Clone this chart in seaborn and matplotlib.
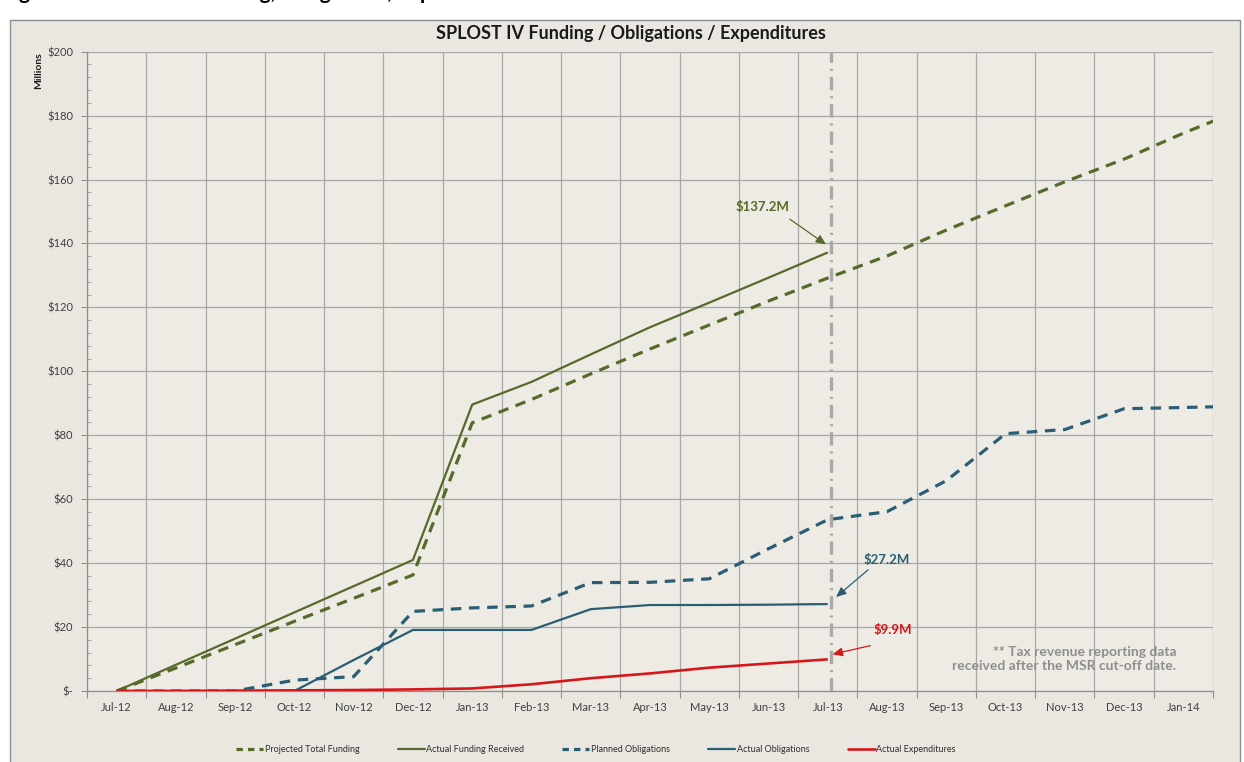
import numpy as np
import pandas as pd
import matplotlib
matplotlib.use("Agg")
import matplotlib.pyplot as plt
import seaborn as sns
from matplotlib.patches import FancyBboxPatch
from matplotlib.lines import Line2D
from matplotlib.ticker import MultipleLocator, FixedLocator, FuncFormatter

# ---------------- data ----------------
months = ["Jul-12", "Aug-12", "Sep-12", "Oct-12", "Nov-12", "Dec-12", "Jan-13",
          "Feb-13", "Mar-13", "Apr-13", "May-13", "Jun-13", "Jul-13", "Aug-13",
          "Sep-13", "Oct-13", "Nov-13", "Dec-13", "Jan-14"]
# series in $ millions; projected series carry one extra (Feb-14) value that runs off the right edge
projected_funding = [0, 7.2, 14.5, 21.8, 29.0, 36.3, 83.9, 91.2, 99.2, 107.0, 114.5,
                     122.0, 129.2, 136.1, 144.2, 151.8, 159.3, 166.4, 174.5, 182.0]
actual_funding = [0, 8.2, 16.4, 24.6, 32.8, 41.0, 89.6, 96.7, 105.3, 113.8, 121.5,
                  129.3, 137.2]
planned_obligations = [0, 0, 0, 3.4, 4.5, 24.9, 26.0, 26.6, 33.9, 34.0, 35.1, 44.5,
                       53.6, 56.1, 65.8, 80.5, 81.8, 88.3, 88.7, 89.1]
actual_obligations = [0, 0, 0, 0, 9.7, 19.1, 19.1, 19.1, 25.6, 26.9, 26.9, 27.0, 27.2]
actual_expenditures = [0, 0, 0.1, 0.2, 0.3, 0.5, 0.8, 2.1, 4.0, 5.5, 7.3, 8.6, 9.9]

series_names = ["Projected Total Funding", "Actual Funding Received",
                "Planned Obligations", "Actual Obligations", "Actual Expenditures"]
series_values = [projected_funding, actual_funding, planned_obligations,
                 actual_obligations, actual_expenditures]
cutoff_month = 12.05
ann_labels = ["$137.2M", "$27.2M", "$9.9M"]
note_text = "** Tax revenue reporting data\nreceived after the MSR cut-off date."

# ---------------- style ----------------
OLIVE = "#566A2B"
TEAL = "#2A5E73"
RED = "#D7161C"
colors = [OLIVE, OLIVE, TEAL, TEAL, RED]
dashed = [True, False, True, False, False]
widths = [2.3, 1.6, 2.3, 1.6, 1.9]

sns.set_theme(style="white")
plt.rcParams["font.family"] = ["Lato", "DejaVu Sans"]

W, H = 1244, 762
fig = plt.figure(figsize=(W / 100, H / 100), dpi=100)
fig.patch.set_facecolor("white")

# chart frame
frame = FancyBboxPatch((10 / W, -0.02), 1230 / W, 1 - 20 / H + 0.02,
                       boxstyle="square,pad=0", transform=fig.transFigure,
                       facecolor="#E9E7E0", edgecolor="#8E8E8E", linewidth=1.0,
                       zorder=-10)
fig.patches.append(frame)

ax = fig.add_axes([87 / W, 1 - 691 / H, (1213 - 87) / W, (691 - 51.7) / H])
ax.set_zorder(2)
ax.set_facecolor("#EDEBE4")

rows = []
for name, vals in zip(series_names, series_values):
    for i, v in enumerate(vals):
        rows.append({"series": name, "month": i, "value": v})
df = pd.DataFrame(rows)

for name, c, d, lw in zip(series_names, colors, dashed, widths):
    sub = df[df["series"] == name]
    ls = (0, (3.3, 2.4)) if d else "-"
    sns.lineplot(data=sub, x="month", y="value", ax=ax, color=c, linewidth=lw,
                 linestyle=ls, legend=False, zorder=3, solid_capstyle="butt",
                 dash_capstyle="butt")

# cutoff line
ax.axvline(cutoff_month, color="#A9A9A9", linewidth=2.4,
           linestyle=(0, (4.0, 1.8, 0.6, 1.8)), zorder=4)

ax.set_xlim(-0.5, 18.5)
ax.set_ylim(0, 200)

# axes / grid
ax.xaxis.set_major_locator(FixedLocator(np.arange(-0.5, 19, 1)))
ax.xaxis.set_minor_locator(FixedLocator(np.arange(0, 19, 1)))
ax.set_xticklabels([], minor=False)
ax.set_xticklabels(months, minor=True)
ax.tick_params(axis="x", which="major", length=5, width=0.8, color="#8E8E8E",
               direction="out", bottom=True)
ax.tick_params(axis="x", which="minor", length=0, pad=8, labelsize=8,
               labelcolor="#404040", bottom=True)

ax.yaxis.set_major_locator(MultipleLocator(20))
ax.yaxis.set_minor_locator(MultipleLocator(4))
ax.yaxis.set_major_formatter(FuncFormatter(lambda v, p: "$-" if v == 0 else f"${v:.0f}"))
ax.tick_params(axis="y", which="major", length=4, width=0.8, color="#8E8E8E",
               direction="out", left=True, pad=6, labelsize=8, labelcolor="#404040")
ax.tick_params(axis="y", which="minor", length=3, width=0.6, color="#9A9A9A",
               direction="in", left=True)

ax.grid(True, which="major", axis="both", color="#A8A8A8", linewidth=0.9, zorder=1)
ax.set_axisbelow(True)
for s in ["top", "right"]:
    ax.spines[s].set_visible(False)
for s in ["left", "bottom"]:
    ax.spines[s].set_color("#8E8E8E")
    ax.spines[s].set_linewidth(0.9)
ax.set_xlabel("")
ax.set_ylabel("")

# annotations
arrow_kw = dict(arrowstyle="-|>,head_length=0.5,head_width=0.22", linewidth=0.9,
                shrinkA=0, shrinkB=0)
ax.text(10.9, 151.3, ann_labels[0], color=OLIVE, fontsize=9.5, fontweight="bold",
        ha="center", va="center", zorder=5)
ax.annotate("", xy=(11.97, 139.7), xytext=(11.36, 147.6),
            arrowprops=dict(color=OLIVE, **arrow_kw))
ax.annotate("", xy=(12.14, 29.4), xytext=(12.68, 37.9),
            arrowprops=dict(color=TEAL, **arrow_kw))
ax.text(13.0, 41.0, ann_labels[1], color=TEAL, fontsize=9.5, fontweight="bold",
        ha="center", va="center", zorder=5)
ax.annotate("", xy=(12.08, 11.5), xytext=(12.72, 14.2),
            arrowprops=dict(color=RED, **arrow_kw))
ax.text(13.1, 19.1, ann_labels[2], color=RED, fontsize=9.5, fontweight="bold",
        ha="center", va="center", zorder=5)
ax.text(17.88, 10.0, note_text, color="#8E8E8E", fontsize=10, fontweight="bold",
        ha="right", va="center", linespacing=1.25, zorder=5)

# titles
fig.text(631 / W, 1 - 34 / H, "SPLOST IV Funding / Obligations / Expenditures",
         ha="center", va="center", fontsize=13, fontweight="bold", color="#1A1A1A")
fig.text(39 / W, 1 - 71 / H, "Millions", rotation=90, ha="center", va="center",
         fontsize=7.5, fontweight="bold", color="#1A1A1A")
fig.text(2 / W, 1 + 1 / H, "Figure 3: SPLOST IV Funding, Obligations, Expenditures",
         ha="left", va="baseline", fontsize=15, fontweight="bold", color="black")

# legend
handles = [Line2D([0], [0], color=c, lw=lw, linestyle=((0, (2.0, 1.6)) if d else "-"))
           for c, d, lw in zip(colors, dashed, widths)]
fig.legend(handles, series_names, loc="center", bbox_to_anchor=(596 / W, 1 - 750 / H),
           ncol=5, frameon=False, fontsize=6.5, handlelength=3.0, handletextpad=0.2,
           columnspacing=4.2, labelcolor="#303030")

fig.savefig("out.png", dpi=100, facecolor=fig.get_facecolor())
